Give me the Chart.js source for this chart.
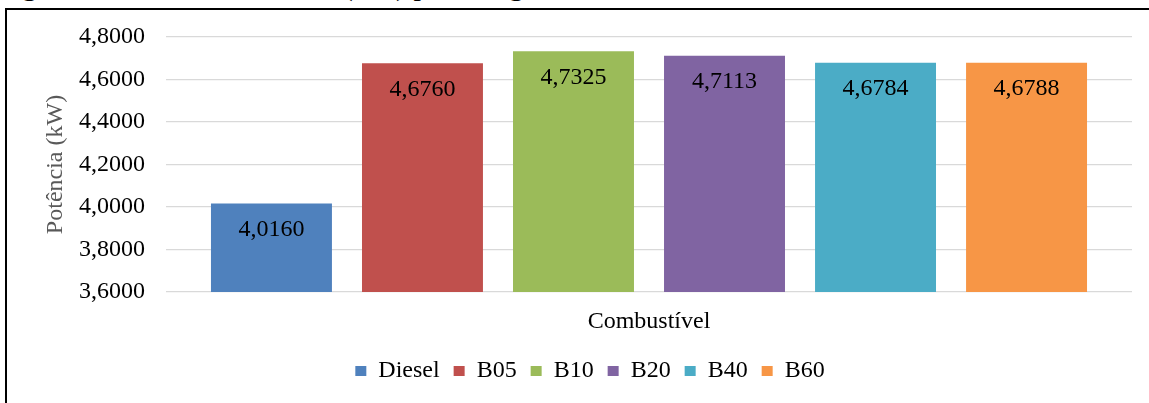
<!DOCTYPE html>
<html lang="pt">
<head>
<meta charset="utf-8">
<title>Potência efetiva por combustível</title>
<script src="https://cdn.jsdelivr.net/npm/chart.js@4/dist/chart.umd.min.js"></script>
<style>
  html, body { margin: 0; padding: 0; background: #fff; }
  body { width: 1149px; height: 403px; position: relative; overflow: hidden; }
  #caption {
    position: absolute; left: -3px; top: -30px; white-space: nowrap;
    font: 30px/30px "Liberation Serif", "Times New Roman", serif; color: #000;
  }
  #frame {
    position: absolute; left: 5px; top: 8px; width: 1160px; height: 420px;
    border-left: 2px solid #000; border-top: 2px solid #000; box-sizing: border-box;
  }
  #chart { position: absolute; left: 0; top: 0; }
</style>
</head>
<body>
<div id="caption">Figura 14 – Potência efetiva (kW) para cargas resistivas de 3000 W</div>
<div id="frame"></div>
<canvas id="chart" width="1149" height="403"></canvas>
<script>
// Fuels tested and the measured effective power (kW)
const fuels = ['Diesel', 'B05', 'B10', 'B20', 'B40', 'B60'];
const power = [4.0160, 4.6760, 4.7325, 4.7113, 4.6784, 4.6788];
const fuelColors = ['#4F81BD', '#C0504D', '#9BBB59', '#8064A2', '#4BACC6', '#F79646'];
const categoryLabels = [''];
const yMin = 3.6, yMax = 4.8, yStep = 0.2;

const SERIF = '"Liberation Serif", "Times New Roman", serif';
const fmt = v => v.toFixed(4).replace('.', ',');

// Value written inside each bar, just below its top
const barValueLabels = {
  id: 'barValueLabels',
  afterDatasetsDraw(chart) {
    const ctx = chart.ctx;
    ctx.save();
    ctx.font = '24px ' + SERIF;
    ctx.fillStyle = '#000';
    ctx.textAlign = 'center';
    ctx.textBaseline = 'middle';
    chart.data.datasets.forEach((ds, i) => {
      const meta = chart.getDatasetMeta(i);
      meta.data.forEach((bar, j) => {
        ctx.fillText(fmt(ds.data[j]), bar.x, bar.y + 26);
      });
    });
    ctx.restore();
  }
};

const datasets = fuels.map((name, i) => ({
  label: name,
  data: [power[i]],
  backgroundColor: fuelColors[i],
  borderWidth: 0,
  categoryPercentage: 0.938,
  barPercentage: 0.801
}));

new Chart(document.getElementById('chart'), {
  type: 'bar',
  data: { labels: categoryLabels, datasets },
  plugins: [barValueLabels],
  options: {
    responsive: false,
    devicePixelRatio: 1,
    animation: false,
    layout: { padding: { left: 48, right: 17, top: 37, bottom: 10 } },
    plugins: {
      tooltip: { enabled: false },
      legend: {
        position: 'bottom',
        labels: {
          boxWidth: 11,
          boxHeight: 10,
          padding: 14,
          color: '#000',
          font: { family: SERIF, size: 24 }
        }
      }
    },
    scales: {
      x: {
        type: 'category',
        grid: { display: false },
        border: { display: false },
        ticks: { display: false },
        title: {
          display: true,
          text: 'Combustível',
          color: '#000',
          font: { family: SERIF, size: 24 },
          padding: { top: 0, bottom: 9 }
        },
        afterFit(scale) { scale.height = 53; }
      },
      y: {
        min: yMin,
        max: yMax,
        grid: { color: '#d9d9d9', lineWidth: 1.3, drawTicks: false },
        border: { display: false },
        ticks: {
          stepSize: yStep,
          padding: 21,
          color: '#000',
          font: { family: SERIF, size: 24 },
          callback: v => fmt(v)
        },
        title: {
          display: true,
          text: 'Potência (kW)',
          color: '#595959',
          font: { family: SERIF, size: 24 },
          padding: { top: -7, bottom: 0 }
        },
        afterFit(scale) { scale.width = 118; }
      }
    }
  }
});
</script>
</body>
</html>
